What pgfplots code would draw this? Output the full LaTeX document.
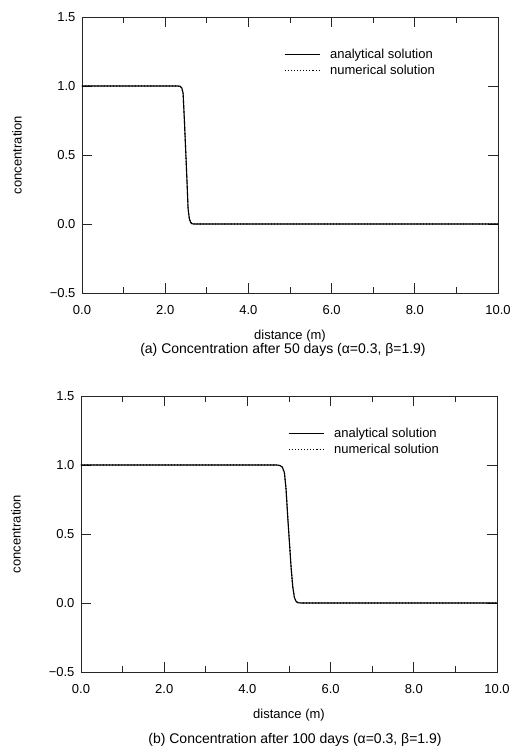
\documentclass[border=0pt]{standalone}
\usepackage{pgfplots}
\pgfplotsset{compat=1.18}
\usepackage{fontspec}
\setmainfont{Liberation Sans}
\pgfplotstableread{
x y
0.00 1.000
2.30 1.000
2.36 0.998
2.40 0.985
2.43 0.950
2.46 0.760
2.49 0.550
2.52 0.340
2.55 0.110
2.58 0.040
2.61 0.012
2.64 0.002
2.70 0.000
10.0 0.000
}\anaA
\pgfplotstableread{
x y
0.00 1.000
2.30 1.000
2.36 0.997
2.40 0.983
2.43 0.945
2.46 0.765
2.49 0.552
2.52 0.335
2.55 0.115
2.58 0.042
2.61 0.013
2.64 0.003
2.70 0.000
10.0 0.000
}\numA
\pgfplotstableread{
x y
0.00 1.000
4.70 1.000
4.78 0.997
4.84 0.985
4.89 0.945
4.93 0.820
4.97 0.620
5.01 0.440
5.05 0.260
5.09 0.120
5.13 0.040
5.17 0.012
5.21 0.002
5.30 0.000
10.0 0.000
}\anaB
\pgfplotstableread{
x y
0.00 1.000
4.70 1.000
4.78 0.996
4.84 0.983
4.89 0.940
4.93 0.825
4.97 0.625
5.01 0.445
5.05 0.255
5.09 0.118
5.13 0.042
5.17 0.013
5.21 0.003
5.30 0.000
10.0 0.000
}\numB
\pgfplotsset{
  myaxis/.style={
    scale only axis, width=416pt, height=276pt,
    xmin=0, xmax=10, ymin=-0.5, ymax=1.5,
    xtick={0,2,4,6,8,10}, xticklabels={0.0,2.0,4.0,6.0,8.0,10.0},
    minor xtick={1,3,5,7,9},
    ytick={-0.5,0,0.5,1,1.5}, yticklabels={−0.5,0.0,0.5,1.0,1.5},
    tick align=inside, tick pos=both,
    major tick length=10pt, minor tick length=6pt,
    axis line style={line width=0.9pt, black!85},
    every tick/.style={black!85, line width=0.9pt},
    tick label style={font=\fontsize{13}{15}\selectfont},
    xticklabel style={yshift=-9pt},
    yticklabel style={xshift=-3pt},
    label style={font=\fontsize{13}{15}\selectfont},
    xlabel={distance (m)}, ylabel={concentration},
    xlabel style={at={(axis description cs:0.5,-0.155)}, anchor=center},
    ylabel style={at={(axis description cs:-0.156,0.5)}, anchor=center},
    legend cell align=left,
    legend image code/.code={\draw[#1] (0pt,0pt) -- (35pt,0pt); \path (43pt,0pt);},
    legend style={draw=none, fill=none, anchor=north west,
      font=\fontsize{13}{15}\selectfont, row sep=1pt,
      nodes={inner sep=2pt}},
  }
}
\begin{document}
\begin{tikzpicture}[x=1pt,y=1pt]
\useasboundingbox (-82,-457) rectangle (435,293);
\begin{axis}[myaxis, at={(0pt,0pt)}, anchor=south west,
  legend style={at={(axis description cs:0.478,0.9)}}]
\addplot[black, no marks, line width=1.1pt] table[x=x,y=y] {\anaA};
\addlegendentry{analytical solution}
\addplot[black, no marks, dotted, line width=1.1pt] table[x=x,y=y] {\numA};
\addlegendentry{numerical solution}
\end{axis}
\node[font=\fontsize{14}{16}\selectfont] at (201,-57) {(a) Concentration after 50 days (α=0.3, β=1.9)};
\begin{axis}[myaxis, at={(-1pt,-379pt)}, anchor=south west,
  legend style={at={(axis description cs:0.49,0.9)}}]
\addplot[black, no marks, line width=1.1pt] table[x=x,y=y] {\anaB};
\addlegendentry{analytical solution}
\addplot[black, no marks, dotted, line width=1.1pt] table[x=x,y=y] {\numB};
\addlegendentry{numerical solution}
\end{axis}
\node[font=\fontsize{14}{16}\selectfont] at (213,-447) {(b) Concentration after 100 days (α=0.3, β=1.9)};
\end{tikzpicture}
\end{document}
